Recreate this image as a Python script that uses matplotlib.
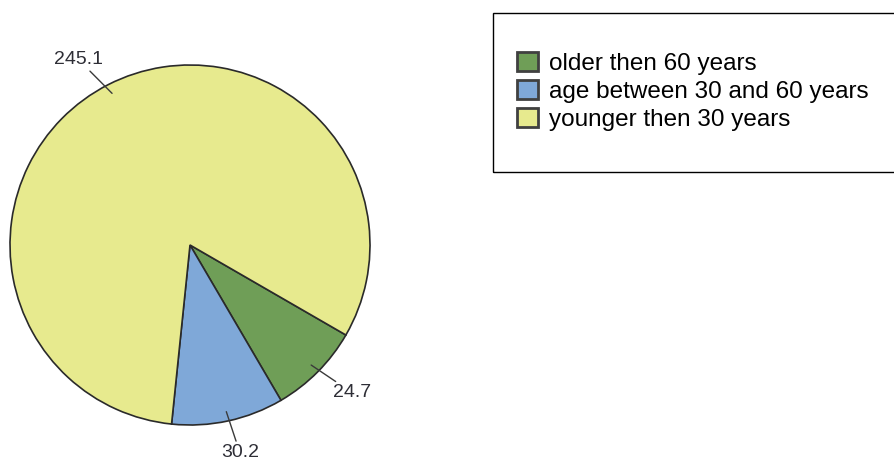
import numpy as np
import matplotlib
matplotlib.use("Agg")
from matplotlib import pyplot
from matplotlib.patches import Rectangle, Patch

pyplot.rcParams['font.family'] = ['Liberation Sans', 'DejaVu Sans']

# data
groups = ['older then 60 years', 'age between 30 and 60 years', 'younger then 30 years']
values = [24.7, 30.2, 245.1]
colors = ['#6f9e57', '#7fa8d8', '#e7ea8e']

# label placement (angle in deg, radius in pie units)
label_pos = [(-42.3, 1.22), (-76.5, 1.185), (121.0, 1.2)]

W, H = 894, 462
fig = pyplot.figure(figsize=(W / 100, H / 100), dpi=100)

# pie axes: center ~(190,245) px, radius ~180 px
ax = fig.add_axes([10 / W, (H - 425) / H, 360 / W, 360 / H])
wedges, _ = ax.pie(values, colors=colors, startangle=-30, counterclock=False,
                   wedgeprops=dict(edgecolor='#2a2a2a', linewidth=1.2))
ax.set_xlim(-1, 1)
ax.set_ylim(-1, 1)
ax.set_aspect('equal')
ax.axis('off')

# labels with leader lines
for w, v, (ang, r) in zip(wedges, values, label_pos):
    a = np.deg2rad((w.theta1 + w.theta2) / 2)
    x0, y0 = 0.94 * np.cos(a), 0.94 * np.sin(a)
    t = np.deg2rad(ang)
    ax.annotate(f'{v}', xy=(x0, y0), xytext=(r * np.cos(t), r * np.sin(t)),
                ha='center', va='center', fontsize=14, color='#2e2e36',
                arrowprops=dict(arrowstyle='-', color='#3a3a3a', lw=1.0,
                                shrinkA=0, shrinkB=1))

# legend
handles = [Patch(facecolor=c, edgecolor='#404040', linewidth=2) for c in colors]
fig.legend(handles, groups, loc='upper left', bbox_to_anchor=(517 / W, 1 - 52 / H),
           frameon=False, fontsize=17.5, borderpad=0, borderaxespad=0,
           handlelength=0.85, handleheight=0.85, handletextpad=0.45, labelspacing=0.2)

# legend frame (runs off the right edge)
fig.patches.append(Rectangle((493 / W, 1 - 172 / H), 1.0, 159 / H, transform=fig.transFigure,
                             fill=False, edgecolor='black', linewidth=1))

fig.savefig('out.png', dpi=100)
